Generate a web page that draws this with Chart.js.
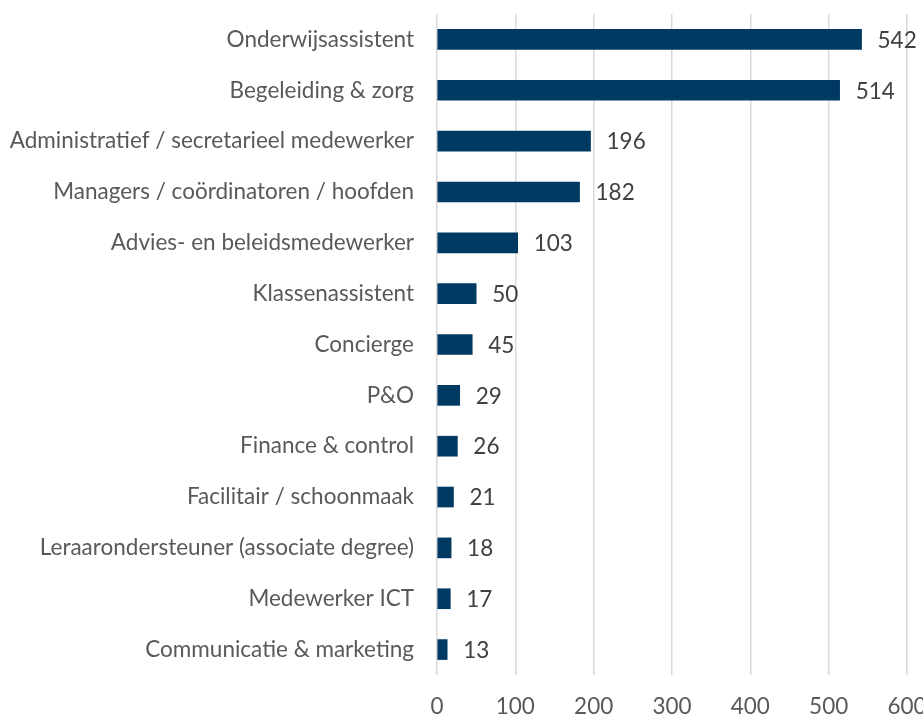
<!DOCTYPE html>
<html>
<head>
<meta charset="utf-8">
<script src="https://cdn.jsdelivr.net/npm/chart.js@4/dist/chart.umd.min.js"></script>
<style>
  html, body { margin: 0; padding: 0; background: #ffffff; }
  #wrap { width: 923px; height: 716px; position: relative; }
</style>
</head>
<body>
<div id="wrap"><canvas id="c" width="923" height="716"></canvas></div>
<script>
const categories = [
  "Onderwijsassistent",
  "Begeleiding & zorg",
  "Administratief / secretarieel medewerker",
  "Managers / coördinatoren / hoofden",
  "Advies- en beleidsmedewerker",
  "Klassenassistent",
  "Concierge",
  "P&O",
  "Finance & control",
  "Facilitair / schoonmaak",
  "Leraarondersteuner (associate degree)",
  "Medewerker ICT",
  "Communicatie & marketing"
];
const values = [542, 514, 196, 182, 103, 50, 45, 29, 26, 21, 18, 17, 13];
const xTicks = [0, 100, 200, 300, 400, 500, 600];

const FONT = "Lato, 'Open Sans', sans-serif";
const FSIZE = 22.5;

const valueLabels = {
  id: 'valueLabels',
  afterDatasetsDraw(chart) {
    const ctx = chart.ctx;
    const meta = chart.getDatasetMeta(0);
    ctx.save();
    ctx.font = FSIZE + "px " + FONT;
    ctx.fillStyle = "#404040";
    ctx.textAlign = "left";
    ctx.textBaseline = "middle";
    meta.data.forEach((bar, i) => {
      ctx.fillText(String(values[i]), bar.x + 16, bar.y + 1);
    });
    ctx.restore();
  }
};

new Chart(document.getElementById('c'), {
  type: 'bar',
  data: {
    labels: categories,
    datasets: [{
      data: values,
      backgroundColor: '#003A63',
      borderWidth: 0,
      barThickness: 20
    }]
  },
  options: {
    indexAxis: 'y',
    responsive: false,
    animation: false,
    layout: { padding: { top: 14, right: 0, bottom: 0, left: 0 } },
    plugins: { legend: { display: false }, tooltip: { enabled: false } },
    scales: {
      x: {
        min: 0, max: 600,
        afterBuildTicks(axis) { axis.ticks = xTicks.map(v => ({ value: v })); },
        afterFit(axis) { axis.height = 41; axis.paddingRight = 16; axis.paddingLeft = 0; axis.paddingBottom = 0; axis.paddingTop = 0; },
        grid: { color: '#d9d9d9', lineWidth: 1.5, drawTicks: false },
        border: { display: false },
        ticks: { color: '#595959', font: { family: FONT, size: FSIZE }, padding: 18 }
      },
      y: {
        grid: { display: false, drawTicks: false },
        border: { display: false },
        afterFit(axis) { axis.width = 437; axis.paddingTop = 0; axis.paddingBottom = 0; },
        ticks: { color: '#595959', font: { family: FONT, size: FSIZE }, padding: 23, autoSkip: false }
      }
    }
  },
  plugins: [valueLabels]
});
</script>
</body>
</html>
